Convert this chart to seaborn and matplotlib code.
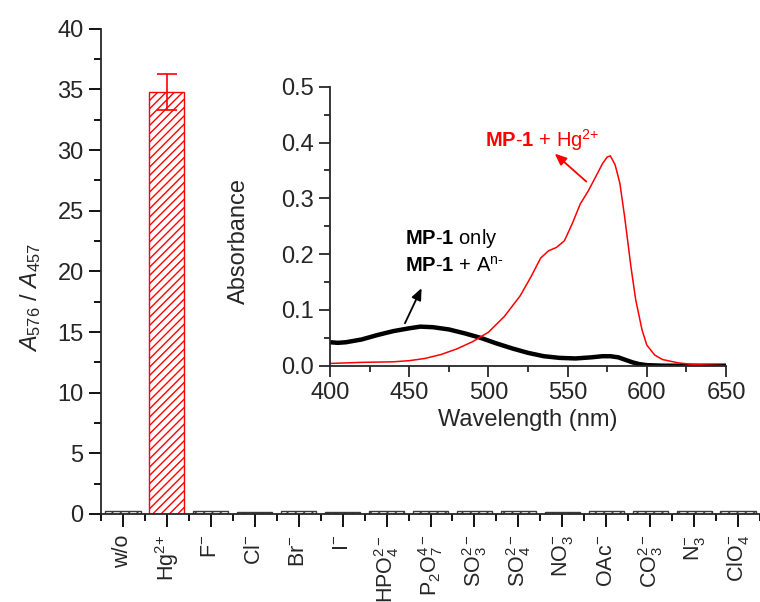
import numpy as np
import pandas as pd
import matplotlib
matplotlib.use("Agg")
import matplotlib.pyplot as plt
from matplotlib.ticker import MultipleLocator, FixedLocator, FormatStrFormatter
import seaborn as sns

# ---- data -------------------------------------------------------------
anions = ["w/o", r"Hg$^{\text{2+}}$", "F$^{-}$", "Cl$^{-}$", "Br$^{-}$",
          "I$^{-}$", "HPO$_4^{2-}$", "P$_2$O$_7^{4-}$", "SO$_3^{2-}$",
          "SO$_4^{2-}$", "NO$_3^{-}$", "OAc$^{-}$", "CO$_3^{2-}$",
          "N$_3^{-}$", "ClO$_4^{-}$"]
ratios = [0.27, 34.8, 0.26, 0.20, 0.21, 0.20, 0.22, 0.23, 0.24, 0.25,
          0.20, 0.22, 0.23, 0.22, 0.24]
ratio_err = [0, 1.5, 0, 0, 0, 0, 0, 0, 0, 0, 0, 0, 0, 0, 0]

# absorption spectra (inset)
wl_free = [400, 405, 410, 420, 430, 440, 450, 457, 465, 475, 485, 495, 505,
           515, 525, 535, 545, 555, 565, 572, 577, 582, 587, 591, 595, 600,
           610, 625, 650]
abs_free = [0.042, 0.041, 0.042, 0.047, 0.055, 0.062, 0.067, 0.070, 0.069,
            0.065, 0.058, 0.050, 0.040, 0.031, 0.023, 0.017, 0.014, 0.013,
            0.015, 0.017, 0.017, 0.015, 0.010, 0.006, 0.003, 0.001, 0.0,
            0.0, 0.0]
wl_hg = [400, 420, 440, 450, 460, 470, 480, 490, 500, 510, 520, 527, 533,
         538, 543, 548, 553, 558, 563, 568, 572, 575, 577, 580, 583, 586,
         590, 593, 597, 600, 605, 610, 620, 630, 640, 650]
abs_hg = [0.004, 0.006, 0.007, 0.009, 0.013, 0.020, 0.030, 0.043, 0.060,
          0.088, 0.125, 0.160, 0.193, 0.206, 0.212, 0.224, 0.255, 0.290,
          0.313, 0.340, 0.362, 0.374, 0.376, 0.360, 0.327, 0.267, 0.177,
          0.118, 0.064, 0.037, 0.019, 0.011, 0.005, 0.002, 0.001, 0.0]

# ---- style ------------------------------------------------------------
sns.set_style("ticks")
plt.rcParams["font.family"] = ["Liberation Sans", "DejaVu Sans"]
plt.rcParams["mathtext.fontset"] = "custom"
plt.rcParams["mathtext.rm"] = "Liberation Sans"
plt.rcParams["mathtext.it"] = "Liberation Sans:italic"
plt.rcParams["mathtext.bf"] = "Liberation Sans:bold"
plt.rcParams["hatch.linewidth"] = 1.0
plt.rcParams["axes.linewidth"] = 1.3

TICK_FS = 17

fig = plt.figure(figsize=(7.6, 6.02), dpi=100)

# ---- main bar chart ---------------------------------------------------
ax = fig.add_axes([101 / 760, 88 / 602, 659 / 760, 485.3 / 602])
edge_colors = ["red" if r > 10 else "#3a3a3a" for r in ratios]
df = pd.DataFrame({"anion": anions, "ratio": ratios})
sns.barplot(data=df, x="anion", y="ratio", hue="anion", palette=edge_colors,
            legend=False, width=0.8, errorbar=None, ax=ax)
for patch, ec in zip(ax.patches, edge_colors):
    patch.set_facecolor("white")
    patch.set_edgecolor(ec)
    patch.set_linewidth(1.0)
    patch.set_hatch("////")

err_idx = [i for i, e in enumerate(ratio_err) if e > 0]
ax.errorbar(err_idx, [ratios[i] for i in err_idx],
            yerr=[ratio_err[i] for i in err_idx], fmt="none",
            ecolor="red", elinewidth=1.2, capsize=7, capthick=1.2)

ax.set_xlim(-0.5, len(anions) - 0.5)
ax.set_ylim(0, 40)
ax.yaxis.set_major_locator(MultipleLocator(5))
ax.yaxis.set_minor_locator(MultipleLocator(2.5))
ax.xaxis.set_minor_locator(FixedLocator(np.arange(-0.5, len(anions), 1.0)))
ax.tick_params(axis="both", which="major", direction="out", length=9,
               width=1.3, labelsize=TICK_FS, color="black")
ax.tick_params(axis="both", which="minor", direction="out", length=5,
               width=1.3, color="black")
ax.tick_params(axis="x", which="major", pad=6)
ax.set_xticks(range(len(anions)))
ax.set_xticklabels(anions, rotation=90, fontsize=15.5)
ax.set_xlabel("")
ax.set_ylabel(r"$\mathit{A}_{576}$ / $\mathit{A}_{457}$", fontsize=TICK_FS)
ax.yaxis.set_label_coords(-0.088, 0.445)
sns.despine(ax=ax, top=True, right=True)

# ---- inset: absorption spectra ---------------------------------------
ins = fig.add_axes([330 / 760, (602 - 365.7) / 602, 396 / 760, 279 / 602])
sns.lineplot(x=wl_free, y=abs_free, color="black", linewidth=3.2, ax=ins)
sns.lineplot(x=wl_hg, y=abs_hg, color="red", linewidth=1.1, ax=ins)
ins.set_xlim(400, 650)
ins.set_ylim(0, 0.5)
ins.xaxis.set_major_locator(MultipleLocator(50))
ins.xaxis.set_minor_locator(MultipleLocator(25))
ins.yaxis.set_major_locator(MultipleLocator(0.1))
ins.yaxis.set_minor_locator(MultipleLocator(0.05))
ins.tick_params(axis="both", which="major", direction="out", length=8,
                width=1.3, labelsize=TICK_FS)
ins.tick_params(axis="both", which="minor", direction="out", length=4,
                width=1.3)
ins.yaxis.set_major_formatter(FormatStrFormatter("%.1f"))
ins.set_xlabel("Wavelength (nm)", fontsize=TICK_FS)
ins.set_ylabel("Absorbance", fontsize=TICK_FS)
ins.xaxis.set_label_coords(0.5, -0.155)
ins.yaxis.set_label_coords(-0.202, 0.447)
ins.patch.set_alpha(0)
sns.despine(ax=ins, top=True, right=True)

ins.text(497.7, 0.405, r"$\mathbf{MP}$-$\mathbf{1}$ + Hg$^{\text{2+}}$",
         color="red", fontsize=14.5, va="center", ha="left")
ins.annotate("", xy=(541.9, 0.38), xytext=(561.8, 0.33),
             arrowprops=dict(arrowstyle="-|>,head_length=0.7,head_width=0.3",
                             color="red", lw=1.3, shrinkA=0, shrinkB=0))
ins.text(447.3, 0.228, r"$\mathbf{MP}$-$\mathbf{1}$ only", color="black",
         fontsize=14.5, va="center", ha="left")
ins.text(447.3, 0.180, r"$\mathbf{MP}$-$\mathbf{1}$ + A$^{\text{n-}}$",
         color="black", fontsize=14.5, va="center", ha="left")
ins.annotate("", xy=(457.8, 0.139), xytext=(447.3, 0.076),
             arrowprops=dict(arrowstyle="-|>,head_length=0.7,head_width=0.3",
                             color="black", lw=1.3, shrinkA=0, shrinkB=0))

fig.savefig("out.png", dpi=100)
